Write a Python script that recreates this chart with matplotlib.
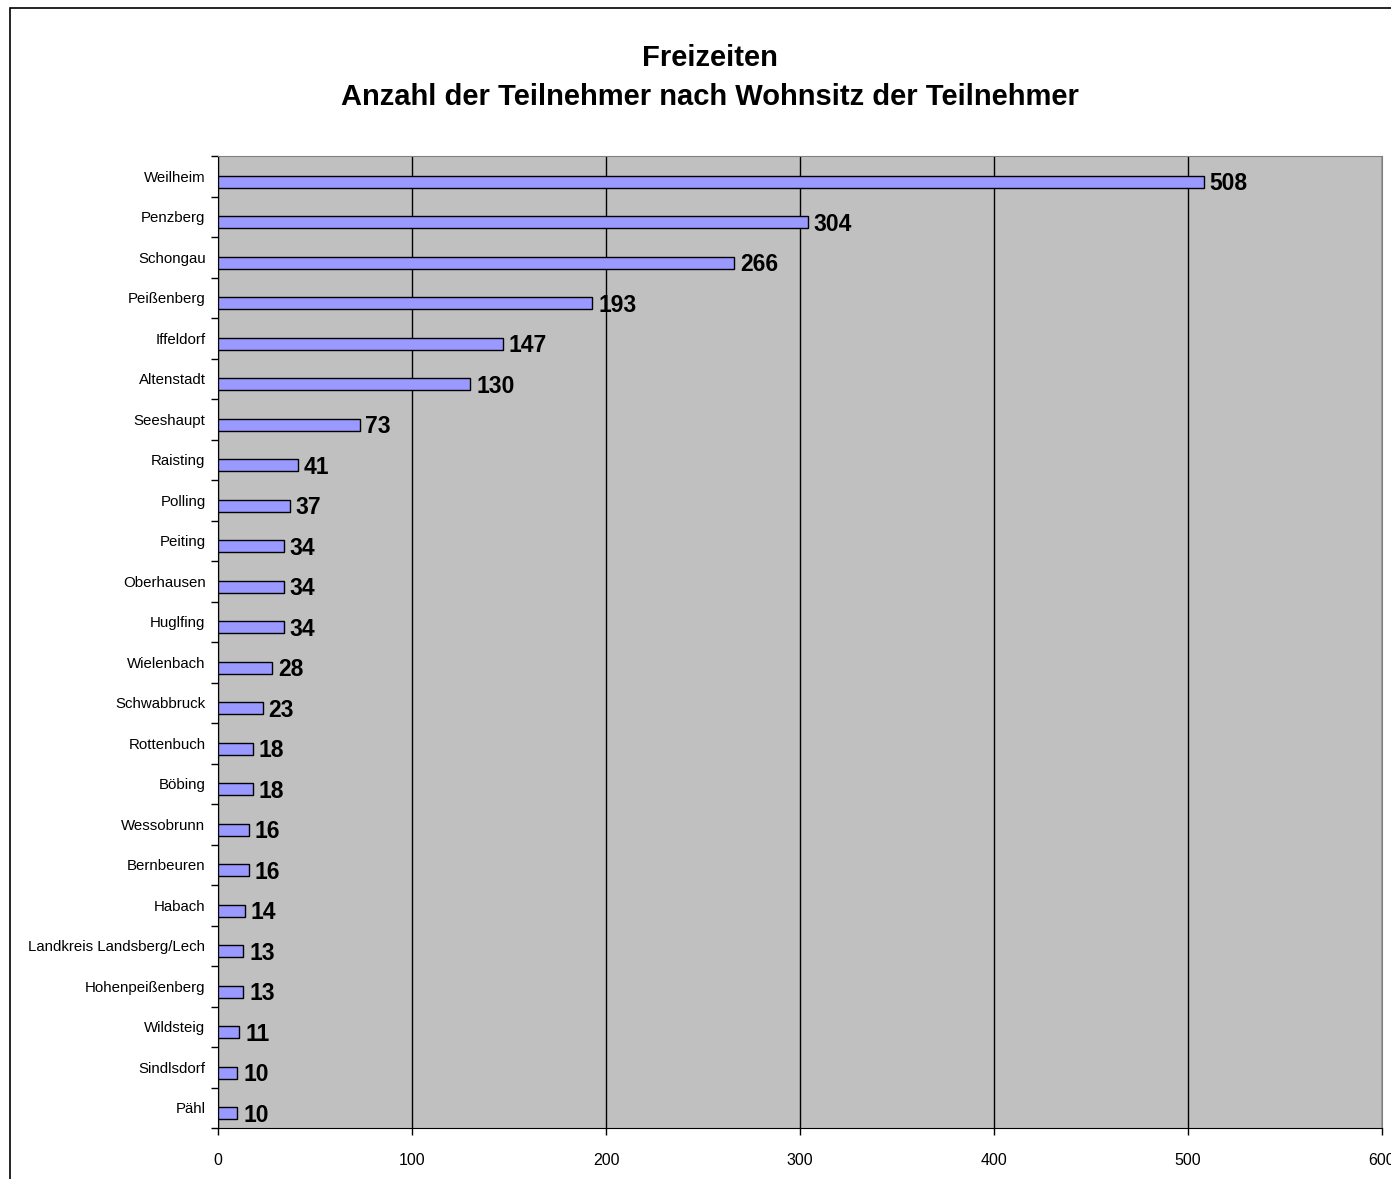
import numpy as np
import matplotlib.pyplot as plt
from matplotlib.patches import Rectangle

plt.rcParams['font.family'] = ['Liberation Sans', 'DejaVu Sans']

orte = ['Weilheim', 'Penzberg', 'Schongau', 'Peißenberg', 'Iffeldorf',
        'Altenstadt', 'Seeshaupt', 'Raisting', 'Polling', 'Peiting',
        'Oberhausen', 'Huglfing', 'Wielenbach', 'Schwabbruck', 'Rottenbuch',
        'Böbing', 'Wessobrunn', 'Bernbeuren', 'Habach',
        'Landkreis Landsberg/Lech', 'Hohenpeißenberg', 'Wildsteig',
        'Sindlsdorf', 'Pähl']
teilnehmer = [508, 304, 266, 193, 147, 130, 73, 41, 37, 34, 34, 34, 28, 23,
              18, 18, 16, 16, 14, 13, 13, 11, 10, 10]
xticks = [0, 100, 200, 300, 400, 500, 600]

fig = plt.figure(figsize=(13.91, 11.79), dpi=100)
# chart border (runs past the right/bottom edge like the original)
fig.patches.append(Rectangle((10 / 1391, -0.1), 1.2, 1.1 - 8 / 1179,
                             transform=fig.transFigure, fill=False,
                             edgecolor='black', linewidth=1.2))

ax = fig.add_axes([218 / 1391, 1 - 1128 / 1179, (1382 - 218) / 1391, (1128 - 156) / 1179])
ax.set_facecolor('#c0c0c0')

pos = np.arange(len(orte))
ax.barh(pos + 0.14, teilnehmer, height=0.3, color='#9999ff',
        edgecolor='black', linewidth=1, zorder=3)
for p, v in zip(pos, teilnehmer):
    ax.text(v + 3, p + 0.18, str(v), va='center', ha='left',
            fontsize=16.5, fontweight='bold', zorder=4)

ax.set_xlim(0, 600)
ax.set_ylim(len(orte) - 0.5, -0.5)
ax.set_xticks(xticks)
ax.set_xticklabels([str(t) for t in xticks], fontsize=11.5)
ax.set_yticks(pos)
ax.set_yticklabels(orte, fontsize=10.8)
ax.set_yticks(np.arange(len(orte) + 1) - 0.5, minor=True)
ax.tick_params(axis='y', which='major', length=0, pad=9)
ax.tick_params(axis='y', which='minor', length=5, width=1, direction='out')
ax.tick_params(axis='x', length=5, width=1, direction='out', pad=13)

ax.grid(axis='x', color='black', linewidth=1, zorder=1)
ax.set_axisbelow(True)
for s in ['top', 'right']:
    ax.spines[s].set_color('#808080')
for s in ['left', 'bottom']:
    ax.spines[s].set_color('black')

fig.text(0.5105, 1 - 58 / 1179, 'Freizeiten', ha='center', va='center',
         fontsize=21, fontweight='bold')
fig.text(0.5105, 1 - 97 / 1179, 'Anzahl der Teilnehmer nach Wohnsitz der Teilnehmer',
         ha='center', va='center', fontsize=21, fontweight='bold')

fig.savefig('out.png', dpi=100)
